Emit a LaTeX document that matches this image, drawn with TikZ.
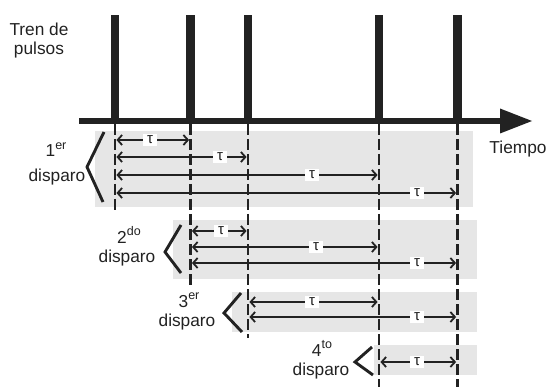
\documentclass[tikz,border=0pt]{standalone}
\usepackage{fontspec}
\setmainfont{Liberation Sans}
\usetikzlibrary{arrows.meta}
\definecolor{ink}{HTML}{222222}
\definecolor{bandgray}{HTML}{E6E6E6}
\newcommand\supx[1]{\raisebox{7.5pt}{\fontsize{12.5}{12.5}\selectfont #1}}
\begin{document}
\begin{tikzpicture}[x=1pt,y=-1pt,
  txt/.style={font=\fontsize{17.3}{20}\selectfont, inner sep=0pt, anchor=base, text=ink},
  pulse/.style={draw=ink, line width=8.6pt, line cap=butt},
  axisline/.style={draw=ink, line width=5.5pt, line cap=butt},
  dline/.style={draw=ink, line width=2.9pt, dash pattern=on 11pt off 4pt},
  bracket/.style={draw=ink, line width=2.9pt, line join=miter},
  tarrow/.style={{Straight Barb[length=4.5pt,width=10pt]}-{Straight Barb[length=4.5pt,width=10pt]}, line width=1.8pt, draw=ink, shorten <=1.4pt, shorten >=1.4pt},
  tlabel/.style={fill=white, inner sep=0pt, minimum width=14pt, minimum height=12pt, font=\fontsize{15}{15}\selectfont, text=ink}]
\useasboundingbox (0,0) rectangle (548,387);

% gray bands
\fill[bandgray] (95,131) rectangle (473,207);
\fill[bandgray] (173,220) rectangle (477,279);
\fill[bandgray] (232,292) rectangle (477,332);
\fill[bandgray] (374,345) rectangle (477,375);

% pulse positions on the axis
\coordinate (A1) at (115,121);
\coordinate (A2) at (190.5,121);
\coordinate (A3) at (248,121);
\coordinate (A4) at (379,121);
\coordinate (A5) at (457.5,121);
\coordinate (A0) at (79,121);
\coordinate (Aend) at (503,121);

% dashed lines
\draw[dline] (A1 |- 0,124) -- (A1 |- 0,213);
\draw[dline] (A2 |- 0,124) -- (A2 |- 0,285);
\draw[dline] (A3 |- 0,124) -- (A3 |- 0,338);
\draw[dline] (A4 |- 0,124) -- (A4 |- 0,390);
\draw[dline] (A5 |- 0,124) -- (A5 |- 0,390);

% pulses and axis
\foreach \i in {1,...,5} { \draw[pulse] (A\i) -- (A\i |- 0,15); }
\draw[axisline] (A0) -- (Aend);
\fill[ink] (500,108.5) -- (532,121) -- (500,133.5) -- cycle;

% arrows
\foreach \s/\e/\y/\lx [count=\k] in {1/2/140/150, 1/3/157/220, 1/4/175/312, 1/5/193/417,
                          2/3/231/221, 2/4/247/316, 2/5/263/417,
                          3/4/302/312, 3/5/317/417,
                          4/5/362/417} {
  \draw[tarrow] (A\s |- 0,\y) -- (A\e |- 0,\y);
  \node[tlabel] (tau\k) at (\lx,\y) {τ};
}

% brackets
\draw[bracket] (104,132) -- (87,167) -- (103,202);
\draw[bracket] (181,225) -- (165,252) -- (181,273);
\draw[bracket] (241,293) -- (224,313) -- (242,332);
\draw[bracket] (372,347) -- (355,362) -- (373,375);

% texts
\node[txt] (tren) at (39,35.5) {Tren de};
\node[txt] (pulsos) at (39,55) {pulsos};
\node[txt] (tiempo) at (518,154) {Tiempo};

\node[txt] (n1) at (56,157) {1\supx{er}};
\node[txt] (d1) at (57,182) {disparo};
\node[txt] (n2) at (129,243) {2\supx{do}};
\node[txt] (d2) at (127,262) {disparo};
\node[txt] (n3) at (189,307) {3\supx{er}};
\node[txt] (d3) at (187,326) {disparo};
\node[txt] (n4) at (322,356) {4\supx{to}};
\node[txt] (d4) at (321,375) {disparo};
\end{tikzpicture}
\end{document}
